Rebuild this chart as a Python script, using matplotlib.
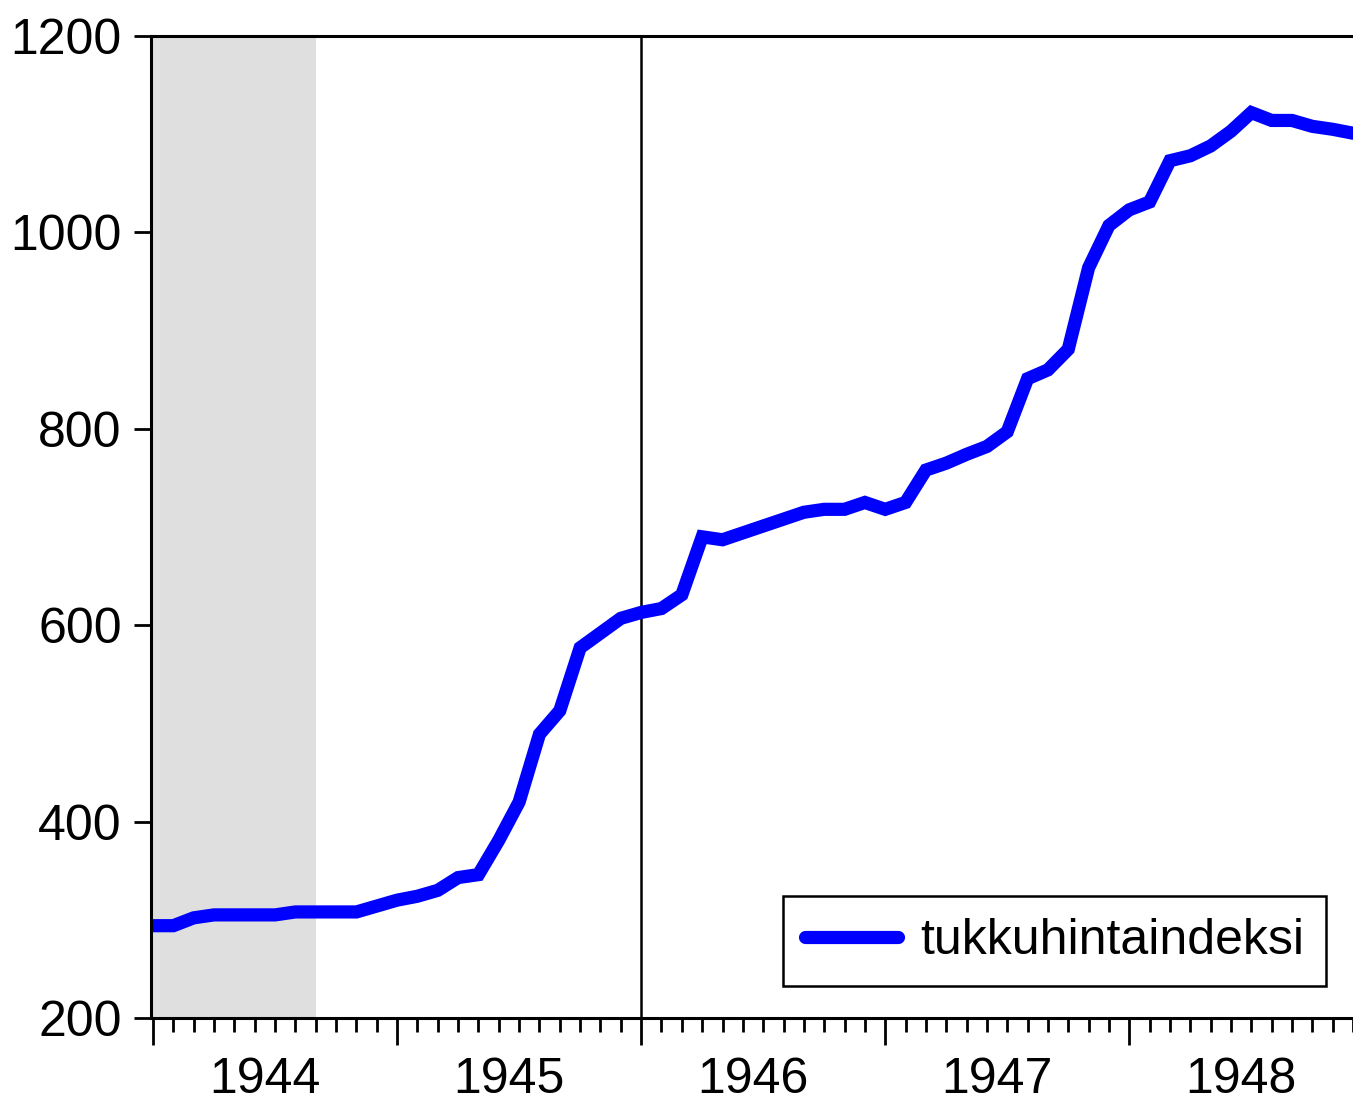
import matplotlib
matplotlib.use("Agg")
import numpy as np
import matplotlib.pyplot as plt

plt.rcParams["font.family"] = ["Liberation Sans", "DejaVu Sans"]

# monthly wholesale price index, Jan 1944 .. Dec 1948
years = [1944, 1945, 1946, 1947, 1948]
tukkuhintaindeksi = [
    294, 294, 302, 305, 305, 305, 305, 308, 308, 308, 308, 314,
    320, 324, 330, 343, 346, 381, 420, 489, 513, 577, 592, 607,
    613, 617, 631, 690, 687, 694, 701, 708, 715, 718, 718, 725,
    718, 725, 758, 765, 774, 782, 797, 851, 860, 881, 964, 1007,
    1023, 1031, 1073, 1078, 1088, 1103, 1122, 1114, 1114, 1108, 1105, 1101,
]
shade_months = (0, 8)      # Jan 1944 .. Sep 1944
vline_month = 24           # Jan 1946

x = np.arange(len(tukkuhintaindeksi))

fig = plt.figure(figsize=(13.53, 11.02), dpi=100)
ax = fig.add_axes([151/1353, 1-1018/1102, 1-151/1353, (1018-36)/1102])

ax.axvspan(shade_months[0], shade_months[1], color="#dfdfdf", lw=0, zorder=0)
ax.axvline(vline_month, color="black", lw=1.8, zorder=1)
ax.plot(x, tukkuhintaindeksi, color="#0000ff", lw=9.5, solid_joinstyle="miter",
        solid_capstyle="round", label="tukkuhintaindeksi", zorder=2)

# one month is ~20.4 px; the picture is cut just before the last month
ax.set_xlim(-0.1, -0.1 + 1202/20.4)
ax.set_ylim(200, 1200)
ax.set_yticks([200, 400, 600, 800, 1000, 1200])

ax.set_xticks(np.arange(0, len(x), 12))
ax.set_xticklabels([])
ax.set_xticks(x, minor=True)
ax.tick_params(axis="x", which="major", direction="out", length=19.5, width=2)
ax.tick_params(axis="x", which="minor", direction="out", length=10, width=2)
ax.tick_params(axis="y", direction="out", length=12, width=2, pad=9, labelsize=36)

for i, yr in enumerate(years):
    ax.annotate(str(yr), xy=(i*12 + 5.5, 0), xycoords=("data", "axes fraction"),
                xytext=(0, -28), textcoords="offset points",
                ha="center", va="top", fontsize=36)

for s in ["left", "top", "bottom"]:
    ax.spines[s].set_linewidth(2.2)
ax.spines["right"].set_visible(False)

leg = ax.legend(loc="lower right", bbox_to_anchor=((1326-151)/1202, (1018-986)/982),
                borderaxespad=0, fontsize=36, handlelength=1.85, handletextpad=0.45,
                borderpad=0.44, fancybox=False, framealpha=1, edgecolor="black")
leg.get_frame().set_linewidth(1.8)

fig.savefig("out.png", dpi=100)
